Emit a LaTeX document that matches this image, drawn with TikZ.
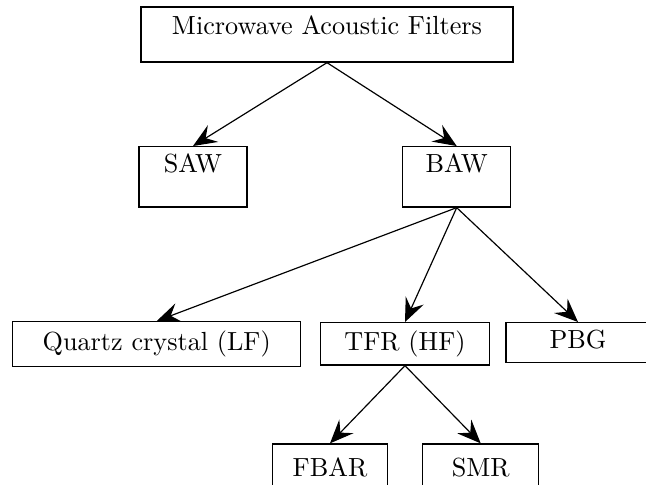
\documentclass[tikz,border=0pt]{standalone}
\usetikzlibrary{arrows.meta}
\begin{document}
\begin{tikzpicture}[x=0.3817pt, y=-0.3817pt,
  box/.style={draw, line width=0.5pt, inner sep=0pt, font=\normalsize},
  conn/.style={line width=0.45pt, -{Stealth[length=9pt, width=7.5pt, inset=3.3pt]}}]
\useasboundingbox (0,0) rectangle (646,485);
\node[box, minimum width=142.0pt, text height=10.69pt, text depth=10.31pt] (top) at (327,34.5) {Microwave Acoustic Filters};
\node[box, minimum width=41.22pt, text height=10.04pt, text depth=12.98pt] (saw) at (193,176.85) {SAW};
\node[box, minimum width=41.22pt, text height=10.04pt, text depth=12.98pt] (baw) at (456.7,176.85) {BAW};
\node[box, minimum width=109.93pt, text height=10.99pt, text depth=6.18pt] (qc) at (156.7,344.2) {Quartz crystal (LF)};
\node[box, minimum width=64.35pt, text height=10.8pt, text depth=5.34pt] (tfr) at (405,343.85) {TFR (HF)};
\node[box, minimum width=54.96pt, text height=10.04pt, text depth=5.23pt] (pbg) at (578,342.7) {PBG};
\node[box, minimum width=43.9pt, text height=12.48pt, text depth=4.31pt] (fbar) at (330,466) {FBAR};
\node[box, minimum width=44.28pt, text height=12.48pt, text depth=4.31pt] (smr) at (480.7,466) {SMR};
\draw[conn] (top.south) -- (saw.north);
\draw[conn] (top.south) -- (baw.north);
\draw[conn] (baw.south) -- (qc.north);
\draw[conn] (baw.south) -- (tfr.north);
\draw[conn] (baw.south) -- (pbg.north);
\draw[conn] (tfr.south) -- (fbar.north);
\draw[conn] (tfr.south) -- (smr.north);
\end{tikzpicture}
\end{document}
